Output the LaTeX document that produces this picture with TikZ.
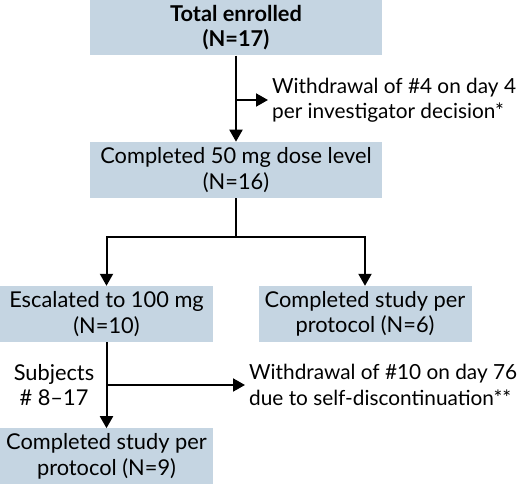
\documentclass[tikz,border=0pt]{standalone}
\usepackage{fontspec}
\setmainfont{Lato}
\usepackage{tikz}
\usetikzlibrary{arrows.meta,positioning,calc}
\definecolor{boxblue}{RGB}{197,213,226}

\begin{document}
\begin{tikzpicture}[
  x=1pt,y=-1pt,
  font=\fontsize{21.8}{25.5}\selectfont,
  box/.style={fill=boxblue,align=center,inner sep=0pt,minimum height=56pt},
  wide/.style={box,minimum width=292pt},
  half/.style={box,minimum width=213pt},
  note/.style={align=left,inner sep=4pt,font=\fontsize{20.8}{25.5}\selectfont},
  arr/.style={-{Triangle[length=12pt,width=13pt]},line width=2pt},
  line/.style={line width=2pt}
]
  \useasboundingbox[fill=white] (0,0) rectangle (520,484);
  \node[wide] (total) at (236,27.5) {\textbf{Total enrolled}\\\textbf{(N=17)}};
  \node[wide, below=86pt of total] (dose) {Completed 50 mg dose level\\(N=16)};
  \node[half] (esc) at (106.5,314) {Escalated to 100 mg\\(N=10)};
  \node[half] (done6) at (365,314) {Completed study per\\protocol (N=6)};
  \node[half, below=86pt of esc] (done9) {Completed study per\\protocol (N=9)};
  % side notes
  \node[note, anchor=west] (wd4) at (268,100) {Withdrawal of \#4 on day 4\\per investigator decision*};
  \node[note, anchor=west] (wd10) at (245,385) {Withdrawal of \#10 on day 76\\due to self-discontinuation**};
  \node[align=center, inner sep=0pt] (subj) at (54,385) {Subjects\\\# 8--17};
  \coordinate (split) at (236,237);
  \coordinate (out4) at (236,100);
  \coordinate (out10) at (107,385);
  \draw[arr] (total) -- (dose);
  \draw[arr] (out4) -- (wd4);
  \draw[line] (dose) -- (split);
  \draw[arr] (split) -| (esc);
  \draw[arr] (split) -| (done6);
  \draw[arr] (esc) -- (done9);
  \draw[arr] (out10) -- (wd10);
\end{tikzpicture}
\end{document}
